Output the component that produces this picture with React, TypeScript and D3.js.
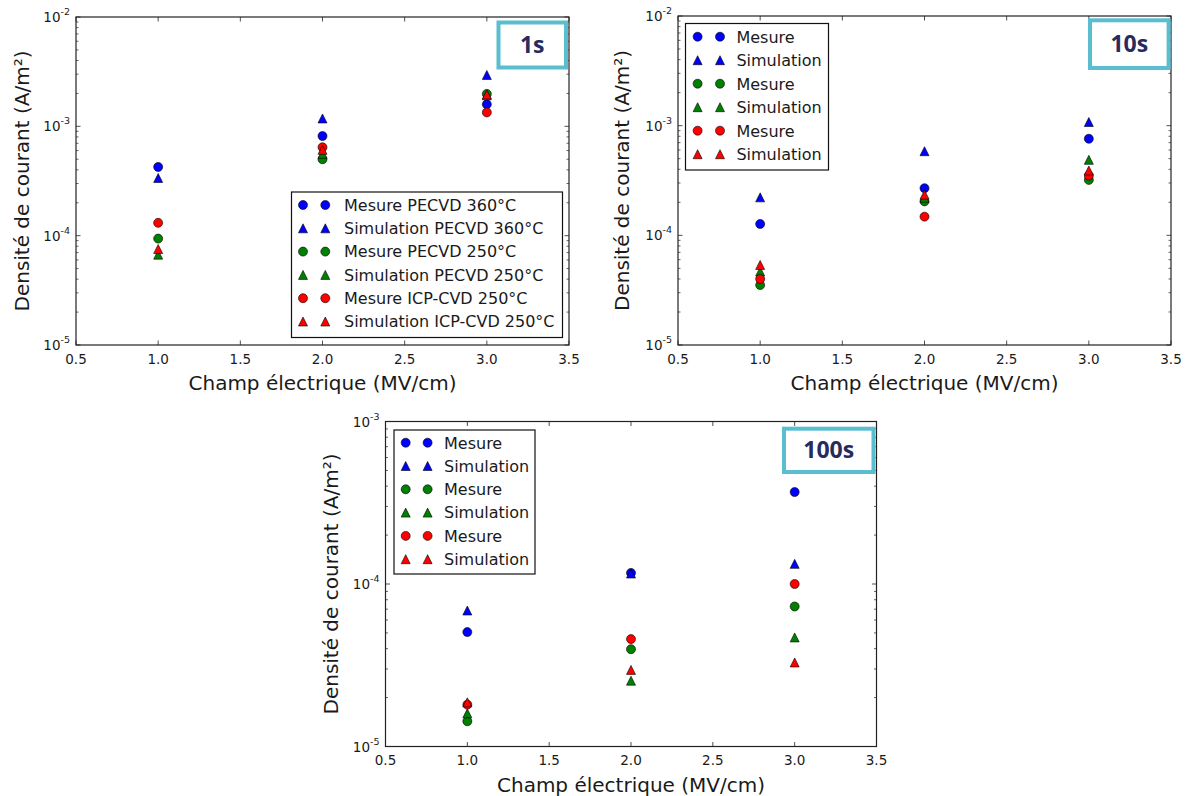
import React from "react";
import * as d3 from "d3";

// ---------- data ----------
const fields = [1.0, 2.0, 3.0];
const xTicks = [0.5, 1.0, 1.5, 2.0, 2.5, 3.0, 3.5];

const seriesColors = ["#0000ff", "#0000ff", "#008000", "#008000", "#ff0000", "#ff0000"];
const seriesShapes = ["circle", "triangle", "circle", "triangle", "circle", "triangle"];

const legendFull = [
  "Mesure PECVD 360°C",
  "Simulation PECVD 360°C",
  "Mesure PECVD 250°C",
  "Simulation PECVD 250°C",
  "Mesure ICP-CVD 250°C",
  "Simulation ICP-CVD 250°C",
];
const legendShort = ["Mesure", "Simulation", "Mesure", "Simulation", "Mesure", "Simulation"];

// 1s
const p1MesurePecvd360 = [4.25e-4, 8.15e-4, 1.59e-3];
const p1SimPecvd360 = [3.37e-4, 1.18e-3, 2.95e-3];
const p1MesurePecvd250 = [9.4e-5, 5.0e-4, 1.98e-3];
const p1SimPecvd250 = [6.7e-5, 5.6e-4, 1.92e-3];
const p1MesureIcp250 = [1.31e-4, 6.43e-4, 1.34e-3];
const p1SimIcp250 = [7.55e-5, 6.1e-4, 1.96e-3];

// 10s
const p2MesurePecvd360 = [1.27e-4, 2.69e-4, 7.6e-4];
const p2SimPecvd360 = [2.22e-4, 5.85e-4, 1.08e-3];
const p2MesurePecvd250 = [3.52e-5, 2.04e-4, 3.2e-4];
const p2SimPecvd250 = [4.69e-5, 2.2e-4, 4.88e-4];
const p2MesureIcp250 = [4.0e-5, 1.48e-4, 3.5e-4];
const p2SimIcp250 = [5.37e-5, 2.35e-4, 3.9e-4];

// 100s
const p3MesurePecvd360 = [5.06e-5, 1.17e-4, 3.68e-4];
const p3SimPecvd360 = [6.87e-5, 1.16e-4, 1.33e-4];
const p3MesurePecvd250 = [1.43e-5, 3.97e-5, 7.27e-5];
const p3SimPecvd250 = [1.6e-5, 2.54e-5, 4.69e-5];
const p3MesureIcp250 = [1.81e-5, 4.58e-5, 1.0e-4];
const p3SimIcp250 = [1.87e-5, 2.96e-5, 3.29e-5];

const xLabel = "Champ électrique (MV/cm)";
const yLabel = "Densité de courant (A/m²)";

// ---------- layout ----------
type PanelCfg = {
  left: number; right: number; top: number; bottom: number;
  yDomain: [number, number];
  series: number[][];
  legend: string[];
  legendBox: { x: number; y: number; w: number; h: number; rowY0: number; rowStep: number; m1: number; m2: number; tx: number };
  tag: string;
  tagBox: { x: number; y: number; w: number; h: number };
  yLabelX: number;
  xLabelY: number;
  xTickY: number;
};

const panels: PanelCfg[] = [
  {
    left: 76, right: 569, top: 17, bottom: 345, yDomain: [1e-5, 1e-2],
    series: [p1MesurePecvd360, p1SimPecvd360, p1MesurePecvd250, p1SimPecvd250, p1MesureIcp250, p1SimIcp250],
    legend: legendFull,
    legendBox: { x: 291.5, y: 192, w: 271, h: 145.5, rowY0: 205, rowStep: 23.3, m1: 303, m2: 325.3, tx: 344 },
    tag: "1s",
    tagBox: { x: 498.5, y: 22.5, w: 67.5, h: 45 },
    yLabelX: 21.5, xLabelY: 390, xTickY: 364,
  },
  {
    left: 678, right: 1171, top: 16, bottom: 345, yDomain: [1e-5, 1e-2],
    series: [p2MesurePecvd360, p2SimPecvd360, p2MesurePecvd250, p2SimPecvd250, p2MesureIcp250, p2SimIcp250],
    legend: legendShort,
    legendBox: { x: 685.5, y: 23.5, w: 143, h: 146.5, rowY0: 36.7, rowStep: 23.5, m1: 697.6, m2: 720, tx: 736.4 },
    tag: "10s",
    tagBox: { x: 1090, y: 20.3, w: 78.6, h: 47.7 },
    yLabelX: 622, xLabelY: 390, xTickY: 364,
  },
  {
    left: 385.5, right: 876.5, top: 421.5, bottom: 746.5, yDomain: [1e-5, 1e-3],
    series: [p3MesurePecvd360, p3SimPecvd360, p3MesurePecvd250, p3SimPecvd250, p3MesureIcp250, p3SimIcp250],
    legend: legendShort,
    legendBox: { x: 394, y: 430, w: 141, h: 144, rowY0: 442.7, rowStep: 23.3, m1: 405.7, m2: 427.6, tx: 444 },
    tag: "100s",
    tagBox: { x: 784, y: 428.7, w: 89.5, h: 43.3 },
    yLabelX: 330.5, xLabelY: 791.5, xTickY: 765,
  },
];

const FONT = "'DejaVu Sans', sans-serif";
const MS = 9;

function Marker({ shape, cx, cy, color }: { shape: string; cx: number; cy: number; color: string }) {
  if (shape === "circle") {
    return <circle cx={cx} cy={cy} r={MS / 2} fill={color} stroke="#000" strokeWidth={0.6} />;
  }
  const h = MS / 2;
  const pts = [[cx, cy - h], [cx - h, cy + h], [cx + h, cy + h]];
  const d = (d3.line()(pts as [number, number][]) || "") + "Z";
  return <path d={d} fill={color} stroke="#000" strokeWidth={0.6} />;
}

function Panel({ cfg }: { cfg: PanelCfg }) {
  const x = d3.scaleLinear().domain([0.5, 3.5]).range([cfg.left, cfg.right]);
  const y = d3.scaleLog().domain(cfg.yDomain).range([cfg.bottom, cfg.top]);
  const allTicks = y.ticks();
  const majors = allTicks.filter((t) => Math.abs(Math.log10(t) - Math.round(Math.log10(t))) < 1e-9);
  const minors = allTicks.filter((t) => !majors.includes(t));
  const axisColor = "#222";
  const lb = cfg.legendBox;
  const cy = (cfg.top + cfg.bottom) / 2;
  const cx = (cfg.left + cfg.right) / 2;
  return (
    <g>
      {/* data */}
      {cfg.series.map((vals, si) =>
        vals.map((v, i) => (
          <Marker key={`${si}-${i}`} shape={seriesShapes[si]} cx={x(fields[i])} cy={y(v)} color={seriesColors[si]} />
        ))
      )}
      {/* ticks */}
      {xTicks.map((t) => (
        <g key={`xt${t}`}>
          <line x1={x(t)} x2={x(t)} y1={cfg.bottom} y2={cfg.bottom - 4.5} stroke={axisColor} strokeWidth={0.8} />
          <line x1={x(t)} x2={x(t)} y1={cfg.top} y2={cfg.top + 4.5} stroke={axisColor} strokeWidth={0.8} />
          <text x={x(t)} y={cfg.xTickY} textAnchor="middle" fontFamily={FONT} fontSize={13.5} fill="#1a1a1a">
            {t.toFixed(1)}
          </text>
        </g>
      ))}
      {majors.map((t) => (
        <g key={`ym${t}`}>
          <line x1={cfg.left} x2={cfg.left + 4.5} y1={y(t)} y2={y(t)} stroke={axisColor} strokeWidth={0.8} />
          <line x1={cfg.right} x2={cfg.right - 4.5} y1={y(t)} y2={y(t)} stroke={axisColor} strokeWidth={0.8} />
          <text x={cfg.left - 6} y={y(t) + 5} textAnchor="end" fontFamily={FONT} fontSize={13.5} fill="#1a1a1a">
            10
            <tspan dy={-7} fontSize={9.5}>{`-${Math.round(-Math.log10(t))}`}</tspan>
          </text>
        </g>
      ))}
      {minors.map((t) => (
        <g key={`yn${t}`}>
          <line x1={cfg.left} x2={cfg.left + 2.5} y1={y(t)} y2={y(t)} stroke={axisColor} strokeWidth={0.7} />
          <line x1={cfg.right} x2={cfg.right - 2.5} y1={y(t)} y2={y(t)} stroke={axisColor} strokeWidth={0.7} />
        </g>
      ))}
      {/* frame */}
      <rect x={cfg.left} y={cfg.top} width={cfg.right - cfg.left} height={cfg.bottom - cfg.top} fill="none" stroke={axisColor} strokeWidth={1.2} />
      {/* legend */}
      <rect x={lb.x} y={lb.y} width={lb.w} height={lb.h} fill="#fff" stroke="#111" strokeWidth={1.2} />
      {cfg.legend.map((lab, i) => {
        const ry = lb.rowY0 + i * lb.rowStep;
        return (
          <g key={`lg${i}`}>
            <Marker shape={seriesShapes[i]} cx={lb.m1} cy={ry} color={seriesColors[i]} />
            <Marker shape={seriesShapes[i]} cx={lb.m2} cy={ry} color={seriesColors[i]} />
            <text x={lb.tx} y={ry + 5.8} fontFamily={FONT} fontSize={16} fill="#1a1a1a">{lab}</text>
          </g>
        );
      })}
      {/* tag */}
      <rect x={cfg.tagBox.x} y={cfg.tagBox.y} width={cfg.tagBox.w} height={cfg.tagBox.h} fill="#fff" stroke="#5bbdd0" strokeWidth={4} />
      <text
        x={cfg.tagBox.x + cfg.tagBox.w / 2}
        y={cfg.tagBox.y + cfg.tagBox.h / 2 + 8}
        textAnchor="middle"
        fontFamily="'Open Sans', sans-serif"
        fontWeight={700}
        fontSize={23}
        fill="#272b5e"
      >
        {cfg.tag}
      </text>
      {/* axis labels */}
      <text x={cx} y={cfg.xLabelY} textAnchor="middle" fontFamily={FONT} fontSize={20} fill="#1a1a1a">{xLabel}</text>
      <text
        transform={`translate(${cfg.yLabelX + 7},${cy}) rotate(-90)`}
        textAnchor="middle"
        fontFamily={FONT}
        fontSize={20}
        fill="#1a1a1a"
      >
        {yLabel}
      </text>
    </g>
  );
}

export default function App() {
  return (
    <div style={{ position: "absolute", left: 0, top: 0, width: 1186, height: 796, background: "#fff" }}>
      <svg width={1186} height={796} viewBox="0 0 1186 796">
        <rect width={1186} height={796} fill="#fff" />
        {panels.map((p, i) => (
          <Panel key={i} cfg={p} />
        ))}
      </svg>
    </div>
  );
}
